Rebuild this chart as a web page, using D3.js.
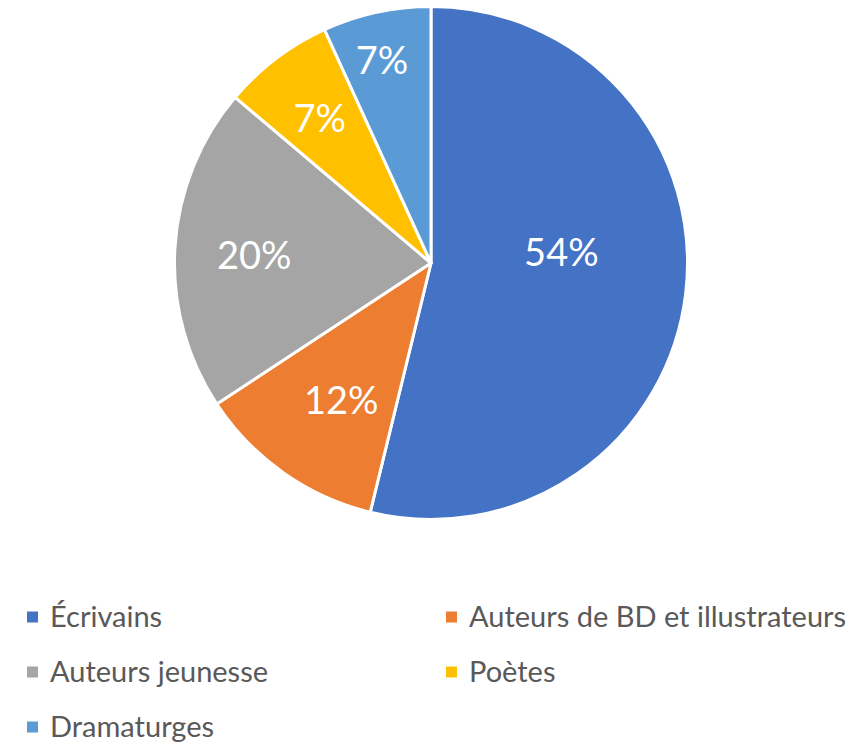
<!DOCTYPE html>
<html>
<head>
<meta charset="utf-8">
<script src="https://cdn.jsdelivr.net/npm/d3@7"></script>
<style>
  body { margin: 0; background: #fff; }
  svg { display: block; font-family: Lato, "Open Sans", sans-serif; }
</style>
</head>
<body>
<div id="chart"></div>
<script>
// Répartition des auteurs par catégorie
const categories = ["Écrivains", "Auteurs de BD et illustrateurs", "Auteurs jeunesse", "Poètes", "Dramaturges"];
const values = [53.7, 11.9, 20.4, 7.0, 6.8];
const colors = ["#4472c4", "#ed7d31", "#a5a5a5", "#ffc000", "#5b9bd5"];

// label placement (fraction of radius, angle nudge in degrees)
const labelRadius = [0.51, 0.64, 0.69, 0.71, 0.81];
const labelNudge = [-11.5, -2, -1, -0.5, -1.4];

(function() {
  const width = 867, height = 744;
  const cx = 431, cy = 263, radius = 256.5;

  const svg = d3.select('#chart')
    .append('svg')
    .attr('width', width)
    .attr('height', height);

  const data = categories.map((c, i) => ({ category: c, value: values[i], i }));

  const pie = d3.pie()
    .value(d => d.value)
    .sort(null);

  const arc = d3.arc()
    .innerRadius(0)
    .outerRadius(radius);

  const g = svg.append('g')
    .attr('transform', `translate(${cx},${cy})`);

  const arcs = pie(data);

  g.selectAll('path')
    .data(arcs)
    .enter()
    .append('path')
    .attr('d', arc)
    .attr('fill', d => colors[d.data.i])
    .attr('stroke', '#fff')
    .attr('stroke-width', 3)
    .attr('stroke-linejoin', 'round');

  const total = d3.sum(values);
  g.selectAll('text.lbl')
    .data(arcs)
    .enter()
    .append('text')
    .attr('class', 'lbl')
    .attr('transform', d => {
      const a = (d.startAngle + d.endAngle) / 2 + labelNudge[d.data.i] * Math.PI / 180;
      const r = radius * labelRadius[d.data.i];
      return `translate(${r * Math.sin(a)},${-r * Math.cos(a)})`;
    })
    .attr('text-anchor', 'middle')
    .attr('dy', '0.35em')
    .attr('fill', '#fff')
    .style('font-size', '38px')
    .text(d => Math.round(d.data.value / total * 100) + '%');

  // legend
  const legendX = d3.scaleOrdinal().domain([0, 1]).range([27, 446]);
  const legendY = d3.scalePoint().domain([0, 1, 2]).range([617, 727]);

  const items = svg.append('g')
    .selectAll('g')
    .data(data)
    .enter()
    .append('g')
    .attr('transform', d => `translate(${legendX(d.i % 2)},${legendY(Math.floor(d.i / 2))})`);

  items.append('rect')
    .attr('x', 0)
    .attr('y', -5.5)
    .attr('width', 11)
    .attr('height', 11)
    .attr('fill', d => colors[d.i]);

  items.append('text')
    .attr('x', 23)
    .attr('dy', '0.35em')
    .attr('fill', '#595959')
    .style('font-size', '29px')
    .text(d => d.category);
})();
</script>
</body>
</html>
